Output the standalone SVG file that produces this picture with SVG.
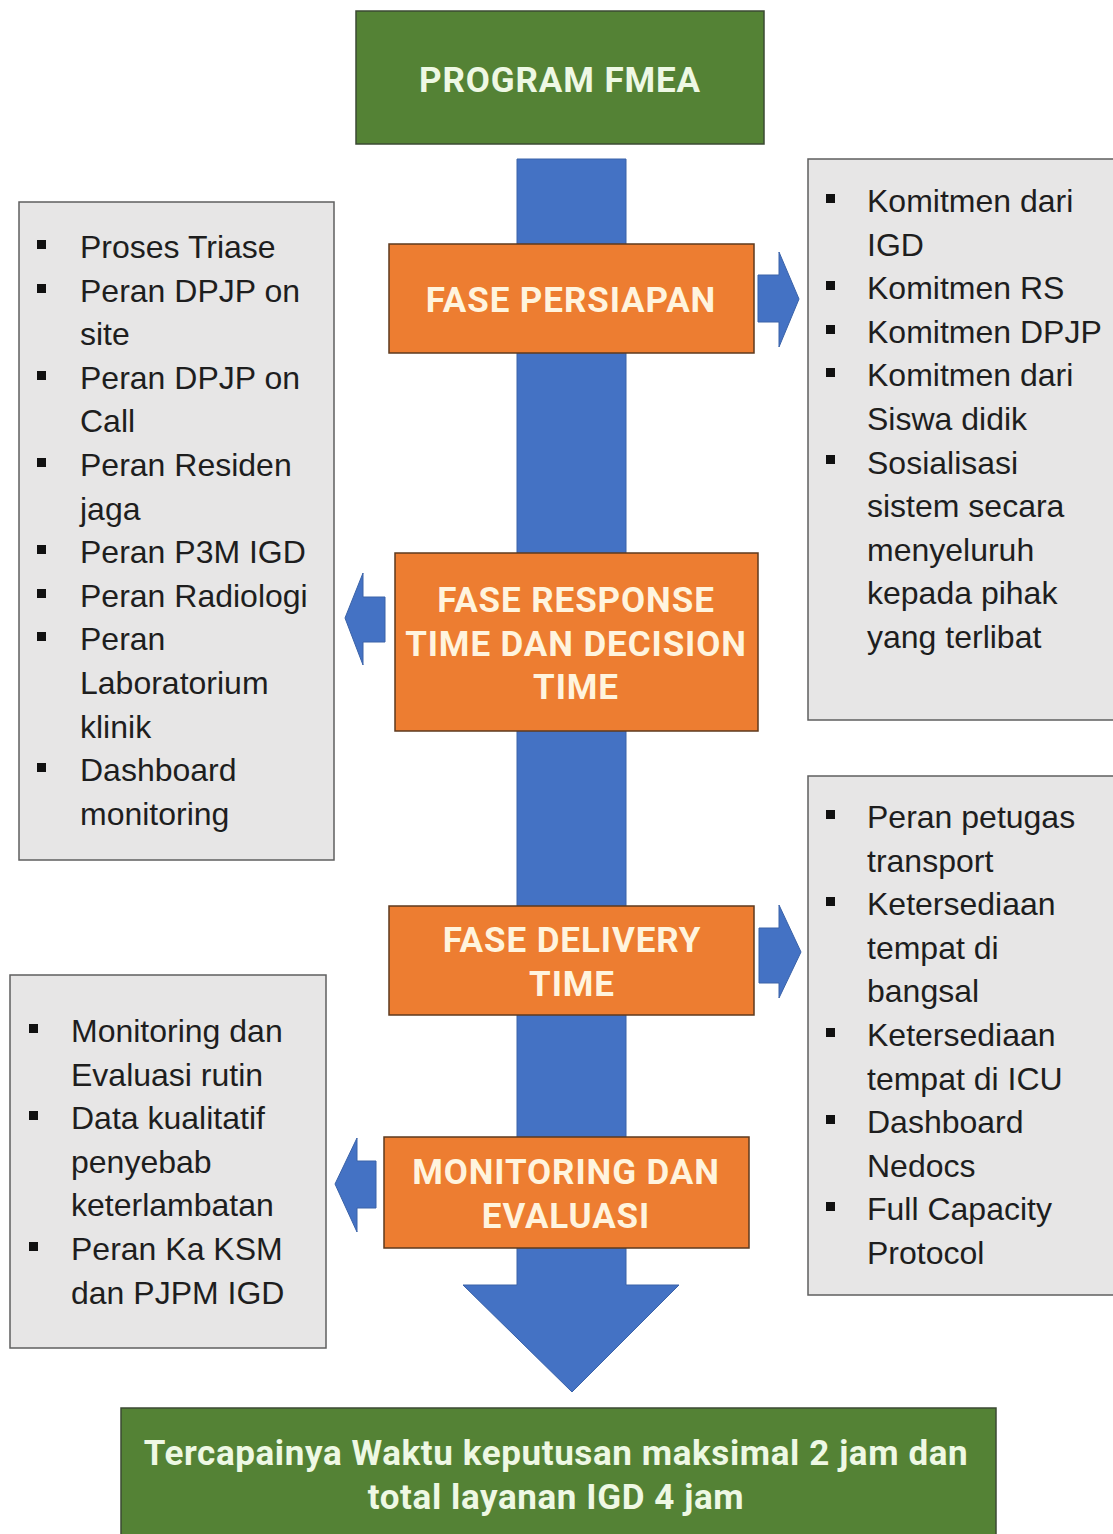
<svg xmlns="http://www.w3.org/2000/svg" width="1113" height="1534" viewBox="0 0 1113 1534">
  <defs>
    <style>
      .blue { fill: #4472C4; stroke: #3A62A8; stroke-width: 1; }
      .orange { fill: #ED7D31; stroke: #5E3A1E; stroke-width: 1.5; }
      .green { fill: #548235; stroke: #3B4A33; stroke-width: 1.5; }
      .panel { fill: #E7E6E6; stroke: #5F5F5F; stroke-width: 1.5; }
      .head { font-family: Roboto, "DejaVu Sans", sans-serif; font-weight: 700; font-size: 35px; letter-spacing: 0.9px; text-anchor: middle; }
      .ho { fill: #FFF4DE; }
      .hg { fill: #EEF8E4; }
      .body { font-family: "Liberation Sans", Arial, sans-serif; font-size: 32px; fill: #1E1E1E; }
      .bul { fill: #111111; }
    </style>
  </defs>

  <rect width="1113" height="1534" fill="#FFFFFF"/>

  <!-- main flow arrow and side arrows -->
  <g id="connectors">
    <path class="blue" d="M517,159 H626 V1285 H679 L572,1392 L463,1285 H517 Z"/>
    <path class="blue" d="M758,275 H779 V252 L799,299 L779,347 V322 H758 Z"/>
    <path class="blue" d="M385,597 H363 V573 L345,618 L363,665 V642 H385 Z"/>
    <path class="blue" d="M759,928 H779 V905 L801,952 L779,998 V983 H759 Z"/>
    <path class="blue" d="M376,1161 H357 V1138 L335,1184 L357,1232 V1208 H376 Z"/>
  </g>

  <g id="program-fmea">
    <rect class="green" x="356" y="11" width="408" height="133"/>
    <text class="head hg" x="560" y="92">PROGRAM FMEA</text>
  </g>

  <g id="fase-persiapan">
    <rect class="orange" x="389" y="244" width="365" height="109"/>
    <text class="head ho" x="571" y="312">FASE PERSIAPAN</text>
  </g>

  <g id="fase-response">
    <rect class="orange" x="395" y="553" width="363" height="178"/>
    <text class="head ho" x="576" y="612">FASE RESPONSE</text>
    <text class="head ho" x="576" y="656">TIME DAN DECISION</text>
    <text class="head ho" x="576" y="699">TIME</text>
  </g>

  <g id="fase-delivery">
    <rect class="orange" x="389" y="906" width="365" height="109"/>
    <text class="head ho" x="572" y="952">FASE DELIVERY</text>
    <text class="head ho" x="572" y="996">TIME</text>
  </g>

  <g id="monitoring-evaluasi">
    <rect class="orange" x="384" y="1137" width="365" height="111"/>
    <text class="head ho" x="566" y="1184">MONITORING DAN</text>
    <text class="head ho" x="566" y="1228">EVALUASI</text>
  </g>

  <g id="hasil">
    <rect class="green" x="121" y="1408" width="875" height="134"/>
    <text class="head hg" x="556" y="1465" style="letter-spacing:0.6px">Tercapainya Waktu keputusan maksimal 2 jam dan</text>
    <text class="head hg" x="556" y="1509" style="letter-spacing:0.6px">total layanan IGD 4 jam</text>
  </g>

  <g id="panel-response">
    <rect class="panel" x="19" y="202" width="315" height="658"/>
    <rect class="bul" x="37" y="240" width="9" height="9"/>
    <rect class="bul" x="37" y="284" width="9" height="9"/>
    <rect class="bul" x="37" y="371" width="9" height="9"/>
    <rect class="bul" x="37" y="458" width="9" height="9"/>
    <rect class="bul" x="37" y="545" width="9" height="9"/>
    <rect class="bul" x="37" y="589" width="9" height="9"/>
    <rect class="bul" x="37" y="632" width="9" height="9"/>
    <rect class="bul" x="37" y="763" width="9" height="9"/>
    <text class="body" x="80" y="258">Proses Triase</text>
    <text class="body" x="80" y="302">Peran DPJP on</text>
    <text class="body" x="80" y="345">site</text>
    <text class="body" x="80" y="389">Peran DPJP on</text>
    <text class="body" x="80" y="432">Call</text>
    <text class="body" x="80" y="476">Peran Residen</text>
    <text class="body" x="80" y="520">jaga</text>
    <text class="body" x="80" y="563">Peran P3M IGD</text>
    <text class="body" x="80" y="607">Peran Radiologi</text>
    <text class="body" x="80" y="650">Peran</text>
    <text class="body" x="80" y="694">Laboratorium</text>
    <text class="body" x="80" y="738">klinik</text>
    <text class="body" x="80" y="781">Dashboard</text>
    <text class="body" x="80" y="825">monitoring</text>
  </g>

  <g id="panel-persiapan">
    <rect class="panel" x="808" y="159" width="315" height="561"/>
    <rect class="bul" x="826" y="194" width="9" height="9"/>
    <rect class="bul" x="826" y="281" width="9" height="9"/>
    <rect class="bul" x="826" y="325" width="9" height="9"/>
    <rect class="bul" x="826" y="368" width="9" height="9"/>
    <rect class="bul" x="826" y="455" width="9" height="9"/>
    <text class="body" x="867" y="212">Komitmen dari</text>
    <text class="body" x="867" y="256">IGD</text>
    <text class="body" x="867" y="299">Komitmen RS</text>
    <text class="body" x="867" y="343">Komitmen DPJP</text>
    <text class="body" x="867" y="386">Komitmen dari</text>
    <text class="body" x="867" y="430">Siswa didik</text>
    <text class="body" x="867" y="474">Sosialisasi</text>
    <text class="body" x="867" y="517">sistem secara</text>
    <text class="body" x="867" y="561">menyeluruh</text>
    <text class="body" x="867" y="604">kepada pihak</text>
    <text class="body" x="867" y="648">yang terlibat</text>
  </g>

  <g id="panel-delivery">
    <rect class="panel" x="808" y="776" width="315" height="519"/>
    <rect class="bul" x="826" y="810" width="9" height="9"/>
    <rect class="bul" x="826" y="897" width="9" height="9"/>
    <rect class="bul" x="826" y="1028" width="9" height="9"/>
    <rect class="bul" x="826" y="1115" width="9" height="9"/>
    <rect class="bul" x="826" y="1202" width="9" height="9"/>
    <text class="body" x="867" y="828">Peran petugas</text>
    <text class="body" x="867" y="872">transport</text>
    <text class="body" x="867" y="915">Ketersediaan</text>
    <text class="body" x="867" y="959">tempat di</text>
    <text class="body" x="867" y="1002">bangsal</text>
    <text class="body" x="867" y="1046">Ketersediaan</text>
    <text class="body" x="867" y="1090">tempat di ICU</text>
    <text class="body" x="867" y="1133">Dashboard</text>
    <text class="body" x="867" y="1177">Nedocs</text>
    <text class="body" x="867" y="1220">Full Capacity</text>
    <text class="body" x="867" y="1264">Protocol</text>
  </g>

  <g id="panel-monitoring">
    <rect class="panel" x="10" y="975" width="316" height="373"/>
    <rect class="bul" x="29" y="1024" width="9" height="9"/>
    <rect class="bul" x="29" y="1111" width="9" height="9"/>
    <rect class="bul" x="29" y="1242" width="9" height="9"/>
    <text class="body" x="71" y="1042">Monitoring dan</text>
    <text class="body" x="71" y="1086">Evaluasi rutin</text>
    <text class="body" x="71" y="1129">Data kualitatif</text>
    <text class="body" x="71" y="1173">penyebab</text>
    <text class="body" x="71" y="1216">keterlambatan</text>
    <text class="body" x="71" y="1260">Peran Ka KSM</text>
    <text class="body" x="71" y="1304">dan PJPM IGD</text>
  </g>
</svg>
